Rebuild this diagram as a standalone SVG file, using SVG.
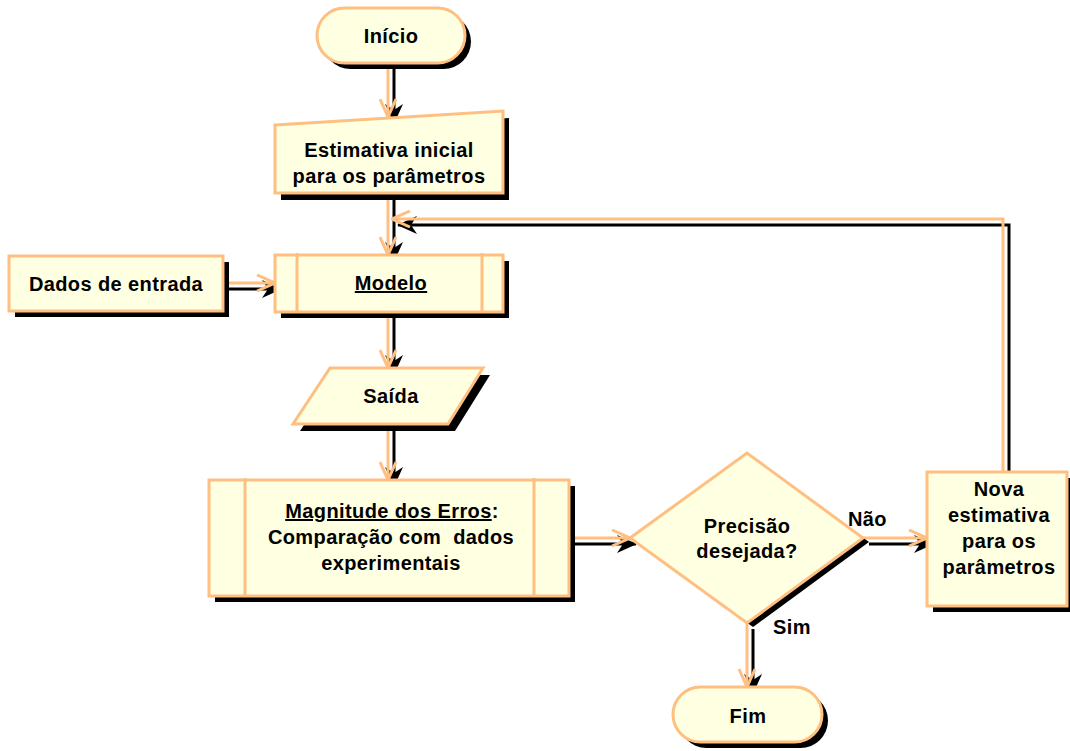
<svg xmlns="http://www.w3.org/2000/svg" width="1070" height="751" viewBox="0 0 1070 751">
<style>
.shape{fill:#FFFFE1;stroke:#FFBF80;stroke-width:3}
.inner{fill:none;stroke:#FFBF80;stroke-width:3}
.shadow{fill:#000}
.conn{fill:none;stroke:#FFBF80;stroke-width:3}
.connS{fill:none;stroke:#000;stroke-width:3}
text{font-family:"Liberation Sans",Arial,sans-serif;font-weight:bold;font-size:20px;text-anchor:middle;fill:#000;letter-spacing:0.4px}
.lbl{text-anchor:start}
</style>
<defs>
<marker id="arr" viewBox="0 0 20 18" refX="19" refY="9" markerWidth="20" markerHeight="18" markerUnits="userSpaceOnUse" orient="auto"><path d="M1,1 L19,9 L1,17" fill="none" stroke="#FFBF80" stroke-width="3"/></marker>
<marker id="arrS" viewBox="0 0 20 18" refX="19" refY="9" markerWidth="20" markerHeight="18" markerUnits="userSpaceOnUse" orient="auto"><path d="M0,0 L20,9 L0,18 L6,9 Z" fill="#000"/></marker>
</defs>
<rect width="1070" height="751" fill="#fff"/>
<g id="connectors">
<g transform="translate(6,6)">
<path class="connS" d="M388,63 L388,117" marker-end="url(#arrS)"/>
<path class="connS" d="M388,193 L388,255" marker-end="url(#arrS)"/>
<path class="connS" d="M1003,472 L1003,219 L392,219" marker-end="url(#arrS)"/>
<path class="connS" d="M223,283 L275,283" marker-end="url(#arrS)"/>
<path class="connS" d="M388,312 L388,368" marker-end="url(#arrS)"/>
<path class="connS" d="M388,424 L388,480" marker-end="url(#arrS)"/>
<path class="connS" d="M569,538 L630,538" marker-end="url(#arrS)"/>
<path class="connS" d="M863,538 L927,538" marker-end="url(#arrS)"/>
<path class="connS" d="M747,623 L747,687" marker-end="url(#arrS)"/>
</g>
<path class="conn" d="M388,63 L388,117" marker-end="url(#arr)"/>
<path class="conn" d="M388,193 L388,255" marker-end="url(#arr)"/>
<path class="conn" d="M1003,472 L1003,219 L392,219" marker-end="url(#arr)"/>
<path class="conn" d="M223,283 L275,283" marker-end="url(#arr)"/>
<path class="conn" d="M388,312 L388,368" marker-end="url(#arr)"/>
<path class="conn" d="M388,424 L388,480" marker-end="url(#arr)"/>
<path class="conn" d="M569,538 L630,538" marker-end="url(#arr)"/>
<path class="conn" d="M863,538 L927,538" marker-end="url(#arr)"/>
<path class="conn" d="M747,623 L747,687" marker-end="url(#arr)"/>
</g>
<g id="inicio">
<rect class="shadow" x="323" y="14" width="148" height="55" rx="27.5"/>
<rect class="shape" x="317" y="8" width="148" height="55" rx="27.5"/>
<text x="391" y="43">Início</text>
</g>
<g id="estimativa">
<polygon class="shadow" points="281,132 509,118 509,200 281,200"/>
<polygon class="shape" points="275,125 503,111 503,193 275,193"/>
<text x="389" y="157">Estimativa inicial</text>
<text x="389" y="183">para os parâmetros</text>
</g>
<g id="dados">
<rect class="shadow" x="15" y="262" width="214" height="55"/>
<rect class="shape" x="9" y="256" width="214" height="55"/>
<text x="116" y="291">Dados de entrada</text>
</g>
<g id="modelo">
<rect class="shadow" x="281" y="261" width="228" height="57"/>
<rect class="shape" x="275" y="255" width="228" height="57"/>
<line class="inner" x1="297" y1="253" x2="297" y2="312"/>
<line class="inner" x1="482" y1="253" x2="482" y2="312"/>
<text x="391" y="290" text-decoration="underline">Modelo</text>
</g>
<g id="saida">
<polygon class="shadow" points="337,375 490,375 455,431 300,431"/>
<polygon class="shape" points="330,368 483,368 448,424 293,424"/>
<text x="391" y="403">Saída</text>
</g>
<g id="magnitude">
<rect class="shadow" x="215" y="486" width="360" height="116"/>
<rect class="shape" x="209" y="480" width="360" height="116"/>
<line class="inner" x1="245" y1="478" x2="245" y2="596"/>
<line class="inner" x1="534" y1="478" x2="534" y2="596"/>
<text x="392" y="518"><tspan text-decoration="underline">Magnitude dos Erros</tspan>:</text>
<text x="391" y="544" xml:space="preserve">Comparação com  dados</text>
<text x="391" y="570">experimentais</text>
</g>
<g id="decisao">
<polygon class="shadow" points="636,542 753,457 869,542 753,627"/>
<polygon class="shape" points="630,538 747,453 863,538 747,623"/>
<text x="747" y="533">Precisão</text>
<text x="747" y="558">desejada?</text>
</g>
<g id="nova">
<rect class="shadow" x="933" y="478" width="140" height="134"/>
<rect class="shape" x="927" y="472" width="140" height="134"/>
<text x="999" y="496">Nova</text>
<text x="999" y="522">estimativa</text>
<text x="999" y="548">para os</text>
<text x="999" y="574">parâmetros</text>
</g>
<g id="fim">
<rect class="shadow" x="679" y="693" width="149" height="55" rx="27.5"/>
<rect class="shape" x="673" y="687" width="149" height="55" rx="27.5"/>
<text x="748" y="723">Fim</text>
</g>
<g id="labels">
<text class="lbl" x="848" y="526">Não</text>
<text class="lbl" x="773" y="634">Sim</text>
</g>
</svg>
